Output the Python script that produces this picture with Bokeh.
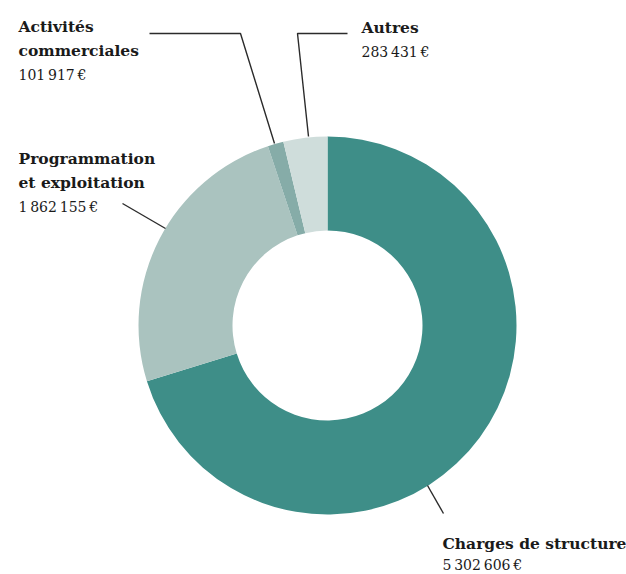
import math
from bokeh.plotting import figure
from bokeh.models import Range1d
from bokeh.core.properties import value
from bokeh.embed import file_html
from bokeh.resources import INLINE

# ---- data ----
categories = ["Charges de structure", "Programmation et exploitation",
              "Activités commerciales", "Autres"]
amounts = [5302606, 1862155, 101917, 283431]
colors = ["#3e8e88", "#aac3bf", "#86aca8", "#cfdddb"]
name_lines = [["Charges de structure"], ["Programmation", "et exploitation"],
              ["Activités", "commerciales"], ["Autres"]]

# ---- layout (page pixel coordinates) ----
W, H = 626, 574
OFF = 0
CX, CY = 327, 325
R_OUT, R_IN = 189, 95
label_pos = [(442, 543), (18, 158), (18, 26), (361, 27)]
line_h = [21, 24, 24, 24]
leaders = [
    [(427, 485), (443, 513)],
    [(122, 203), (165, 228)],
    [(149, 33), (240, 33), (274, 143)],
    [(347, 33), (297, 33), (308, 136)],
]

def tx(x):
    return x - CX

def ty(y):
    return CY - y

def fmt(v):
    return f"{v:,}".replace(",", "\u202f") + "\u202f€"

p = figure(width=W, height=H, output_backend="svg", toolbar_location=None,
           x_range=Range1d(OFF - CX, OFF + W - CX),
           y_range=Range1d(CY - (OFF + H), CY - OFF),
           min_border=0)
p.axis.visible = False
p.grid.visible = False
p.outline_line_color = None
p.background_fill_color = "white"
p.border_fill_color = "white"

total = sum(amounts)
start = math.pi / 2
starts, ends = [], []
for a in amounts:
    end = start - 2 * math.pi * a / total
    starts.append(start)
    ends.append(end)
    start = end

p.annular_wedge(x=0, y=0, inner_radius=R_IN, outer_radius=R_OUT,
                start_angle=starts, end_angle=ends, direction="clock",
                fill_color=colors, line_color=None)

for pts in leaders:
    p.line([tx(x) for x, _ in pts], [ty(y) for _, y in pts],
           line_color="#2b2b2b", line_width=1.4)

FONT = "DejaVu Serif"
for (lx, ly), lh, lines, amt in zip(label_pos, line_h, name_lines, amounts):
    ys = [ly + i * lh for i in range(len(lines))]
    p.text(x=[tx(lx)] * len(lines), y=[ty(y) for y in ys], text=lines,
           text_font=value(FONT), text_font_style="bold",
           text_font_size="15.5px", text_color="#1a1a1a",
           text_baseline="alphabetic", text_align="left")
    p.text(x=[tx(lx)], y=[ty(ly + len(lines) * lh)], text=[fmt(amt)],
           text_font=value(FONT), text_font_size="14px",
           text_color="#1a1a1a", text_baseline="alphabetic",
           text_align="left")

open("out.html", "w").write(file_html(p, INLINE))
